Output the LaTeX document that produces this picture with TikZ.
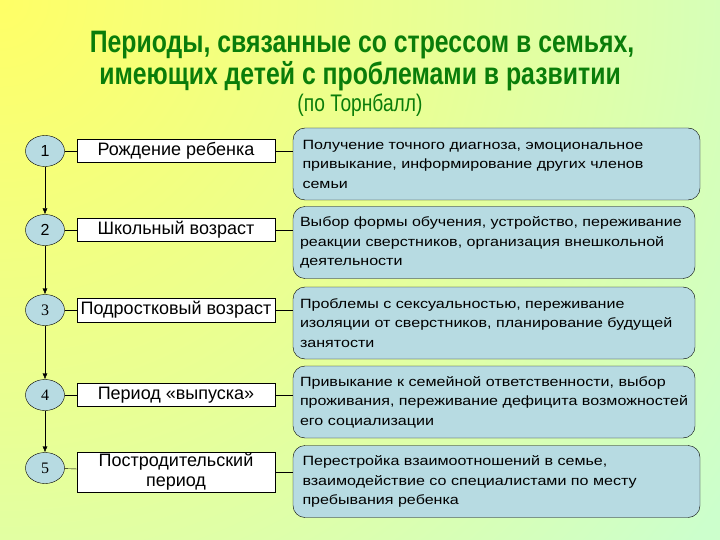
\documentclass[tikz,border=0pt]{standalone}
\usepackage{fontspec}
\setmainfont{Liberation Sans}
\newfontfamily\titlefont[FakeStretch=0.8]{Liberation Sans}
\newfontfamily\widefont[FakeStretch=1.2]{Liberation Sans}
\newfontfamily\numfont{Liberation Serif}
\usetikzlibrary{shapes.geometric,arrows.meta}
\definecolor{bgyellow}{RGB}{255,255,102}
\definecolor{bgmid}{RGB}{232,255,150}
\definecolor{bggreen}{RGB}{204,255,204}
\definecolor{boxblue}{RGB}{183,219,226}
\definecolor{titlegreen}{RGB}{10,125,10}
\pgfdeclareradialshading{bgglow}{\pgfpoint{0bp}{0bp}}{color(0bp)=(bgyellow); color(11bp)=(bgmid); color(22bp)=(bggreen); color(50bp)=(bggreen)}

\begin{document}
\begin{tikzpicture}[x=1pt,y=-1pt,
    num/.style={ellipse,draw,fill=boxblue,minimum width=39pt,minimum height=31pt,inner sep=0pt,font=\fontsize{16}{18}\selectfont},
    period/.style={draw,fill=white,minimum width=198pt,minimum height=23pt,inner sep=1pt,align=center,font=\fontsize{18}{20}\selectfont},
    descr/.style={draw,fill=boxblue,rounded corners=12pt,minimum height=72pt,inner xsep=0pt,text width=388pt,align=left,font=\widefont\fontsize{13.4}{19.5}\selectfont},
    heading/.style={anchor=base,text=titlegreen,inner sep=0pt},
    link/.style={-{Latex[length=6pt,width=5pt]}}]
    % Background
    \clip (0,0) rectangle (720,540);
    \shade[shading=bgglow] (0,0) circle (1000);
    % Title
    \node[heading,font=\titlefont\bfseries\fontsize{31}{34}\selectfont] (title1) at (362,53) {Периоды, связанные со стрессом в семьях,};
    \node[heading,font=\titlefont\bfseries\fontsize{31}{34}\selectfont] (title2) at (360,85) {имеющих детей с проблемами в развитии};
    \node[heading,font=\titlefont\fontsize{24}{26}\selectfont] (title3) at (360,112) {(по Торнбалл)};
    % Numbers
    \node[num] (n1) at (45,151) {1};
    \node[num] (n2) at (45,230) {2};
    \node[num] (n3) at (45,310) {\numfont 3};
    \node[num] (n4) at (45,395) {\numfont 4};
    \node[num] (n5) at (45,468) {\numfont 5};
    % Periods
    \node[period] (p1) at (176,151) {Рождение ребенка};
    \node[period] (p2) at (176,230) {Школьный возраст};
    \node[period,minimum height=24pt] (p3) at (176,310) {Подростковый возраст};
    \node[period] (p4) at (176,395) {Период «выпуска»};
    \node[period,minimum height=40pt] (p5) at (176,472) {Постродительский\\период};
    % Stress sources
    \node[descr,minimum width=407pt] (d1) at (496.5,164) {Получение точного диагноза, эмоциональное\\привыкание, информирование других членов\\семьи};
    \node[descr,minimum width=402pt] (d2) at (494,242.5) {Выбор формы обучения, устройство, переживание\\реакции сверстников, организация внешкольной\\деятельности};
    \node[descr,minimum width=402pt] (d3) at (494,323) {Проблемы с сексуальностью, переживание\\изоляции от сверстников, планирование будущей\\занятости};
    \node[descr,minimum width=402pt] (d4) at (494,402) {Привыкание к семейной ответственности, выбор\\проживания, переживание дефицита возможностей\\его социализации};
    \node[descr,minimum width=407pt] (d5) at (496.5,481.5) {Перестройка взаимоотношений в семье,\\взаимодействие со специалистами по месту\\пребывания ребенка};
    % Connectors
    \draw[link] (n1) -- (n2);
    \draw[link] (n2) -- (n3);
    \draw[link] (n3) -- (n4);
    \draw[link] (n4) -- (n5);
    \draw (n1) -- (p1);  \draw (p1) -- (p1 -| d1.west);
    \draw (n2) -- (p2);  \draw (p2) -- (p2 -| d2.west);
    \draw (n3) -- (p3);  \draw (p3) -- (p3 -| d3.west);
    \draw (n4) -- (p4);  \draw (p4) -- (p4 -| d4.west);
    \draw (n5) -- (p5);  \draw (p5) -- (p5 -| d5.west);
\end{tikzpicture}
\end{document}
